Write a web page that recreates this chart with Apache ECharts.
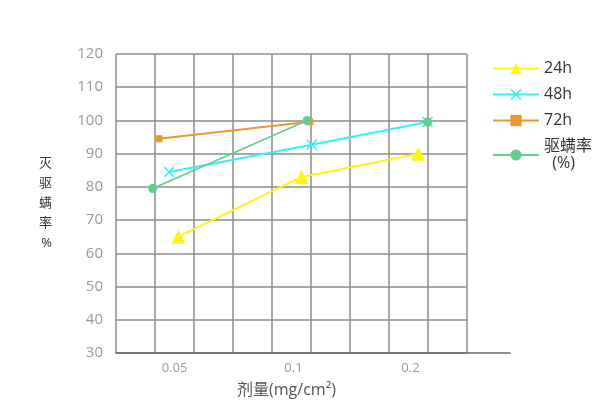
<!DOCTYPE html>
<html>
<head>
<meta charset="utf-8">
<script src="https://cdn.jsdelivr.net/npm/echarts@6/dist/echarts.min.js"></script>
<style>
  html, body { margin: 0; padding: 0; background: #fff; }
  #chart { width: 600px; height: 417px; }
</style>
</head>
<body>
<div id="chart"></div>
<script>
// x values are in grid units (0..9) as placed on the original chart
const xTickPos = [1.5, 4.55, 7.55]
const xTickLabels = ['0.05', '0.1', '0.2']

const x24h = [1.6, 4.76, 7.75]
const y24h = [65, 83, 90]
const x48h = [1.36, 5.02, 7.99]
const y48h = [84.5, 92.7, 99.5]
const x72h = [1.1, 4.97]
const y72h = [94.5, 99.6]
// null = gap, the last green point stands alone
const xRate = [0.94, 4.9, null, 7.99]
const yRate = [79.5, 100, null, 99.5]

const seriesNames = ['24h', '48h', '72h', '驱螨率\n  (%)']

const pairs = (xs, ys) => xs.map((x, i) => (x == null ? '-' : [x, ys[i]]))

const fontFamily = "'Open Sans', 'Noto Sans CJK SC', sans-serif"
const crossPath = 'path://M0,1L1,0L5,4L9,0L10,1L6,5L10,9L9,10L5,6L1,10L0,9L4,5Z'

const chart = echarts.init(document.getElementById('chart'))

chart.setOption({
  animation: false,
  textStyle: { fontFamily: fontFamily },
  legend: {
    orient: 'vertical',
    left: 487,
    top: 55,
    itemWidth: 46,
    itemHeight: 14,
    itemGap: 9,
    data: seriesNames,
    textStyle: { fontSize: 16, color: '#333', lineHeight: 17 }
  },
  grid: [
    { left: 116, right: 133, top: 54, bottom: 64 },
    { left: 116, right: 90, top: 54, bottom: 64 } // only for the longer baseline
  ],
  xAxis: [
    {
      type: 'value',
      gridIndex: 0,
      min: 0,
      max: 9,
      interval: 1,
      name: '剂量(mg/cm²)',
      nameLocation: 'middle',
      nameGap: 29,
      nameTextStyle: { fontSize: 16, color: '#555', padding: [0, 10, 0, 0] },
      axisLine: { show: false },
      axisTick: { show: false },
      splitLine: { show: true, lineStyle: { color: '#8c8c8c', width: 1.5 } },
      axisLabel: {
        show: true,
        customValues: xTickPos,
        margin: 9,
        fontSize: 13,
        color: '#999',
        formatter: v => xTickLabels[xTickPos.indexOf(v)] || ''
      }
    },
    {
      type: 'value',
      gridIndex: 1,
      min: 0,
      max: 10,
      axisLine: { show: true, lineStyle: { color: '#6a6a6a', width: 1.5 } },
      axisTick: { show: false },
      axisLabel: { show: false },
      splitLine: { show: false }
    }
  ],
  yAxis: [
    {
      type: 'value',
      gridIndex: 0,
      min: 30,
      max: 120,
      interval: 10,
      name: '灭\n驱\n螨\n率\n%',
      nameLocation: 'middle',
      nameRotate: 0,
      nameGap: 64,
      nameTextStyle: { fontSize: 13, color: '#333', lineHeight: 20 },
      axisLine: { show: false },
      axisTick: { show: false },
      splitLine: { show: true, lineStyle: { color: '#8c8c8c', width: 1.5 } },
      axisLabel: { fontSize: 15, color: '#999', margin: 13 }
    },
    {
      type: 'value',
      gridIndex: 1,
      min: 30,
      max: 120,
      show: false
    }
  ],
  series: [
    {
      name: seriesNames[0],
      type: 'line',
      data: pairs(x24h, y24h),
      symbol: 'triangle',
      symbolSize: 14,
      lineStyle: { color: '#FFF514', width: 2 },
      itemStyle: { color: '#FFF514' }
    },
    {
      name: seriesNames[1],
      type: 'line',
      data: pairs(x48h, y48h),
      symbol: crossPath,
      symbolSize: 11,
      lineStyle: { color: '#38F0F2', width: 2 },
      itemStyle: { color: '#38F0F2' }
    },
    {
      name: seriesNames[2],
      type: 'line',
      data: pairs(x72h, y72h),
      symbol: 'rect',
      symbolSize: 7,
      lineStyle: { color: '#EE952D', width: 2 },
      itemStyle: { color: '#EE952D' }
    },
    {
      name: seriesNames[3],
      type: 'line',
      z: 5,
      data: pairs(xRate, yRate),
      symbol: 'circle',
      symbolSize: 9,
      showAllSymbol: true,
      lineStyle: { color: '#62CD8C', width: 1.5 },
      itemStyle: { color: '#62CD8C' }
    }
  ]
})
</script>
</body>
</html>
